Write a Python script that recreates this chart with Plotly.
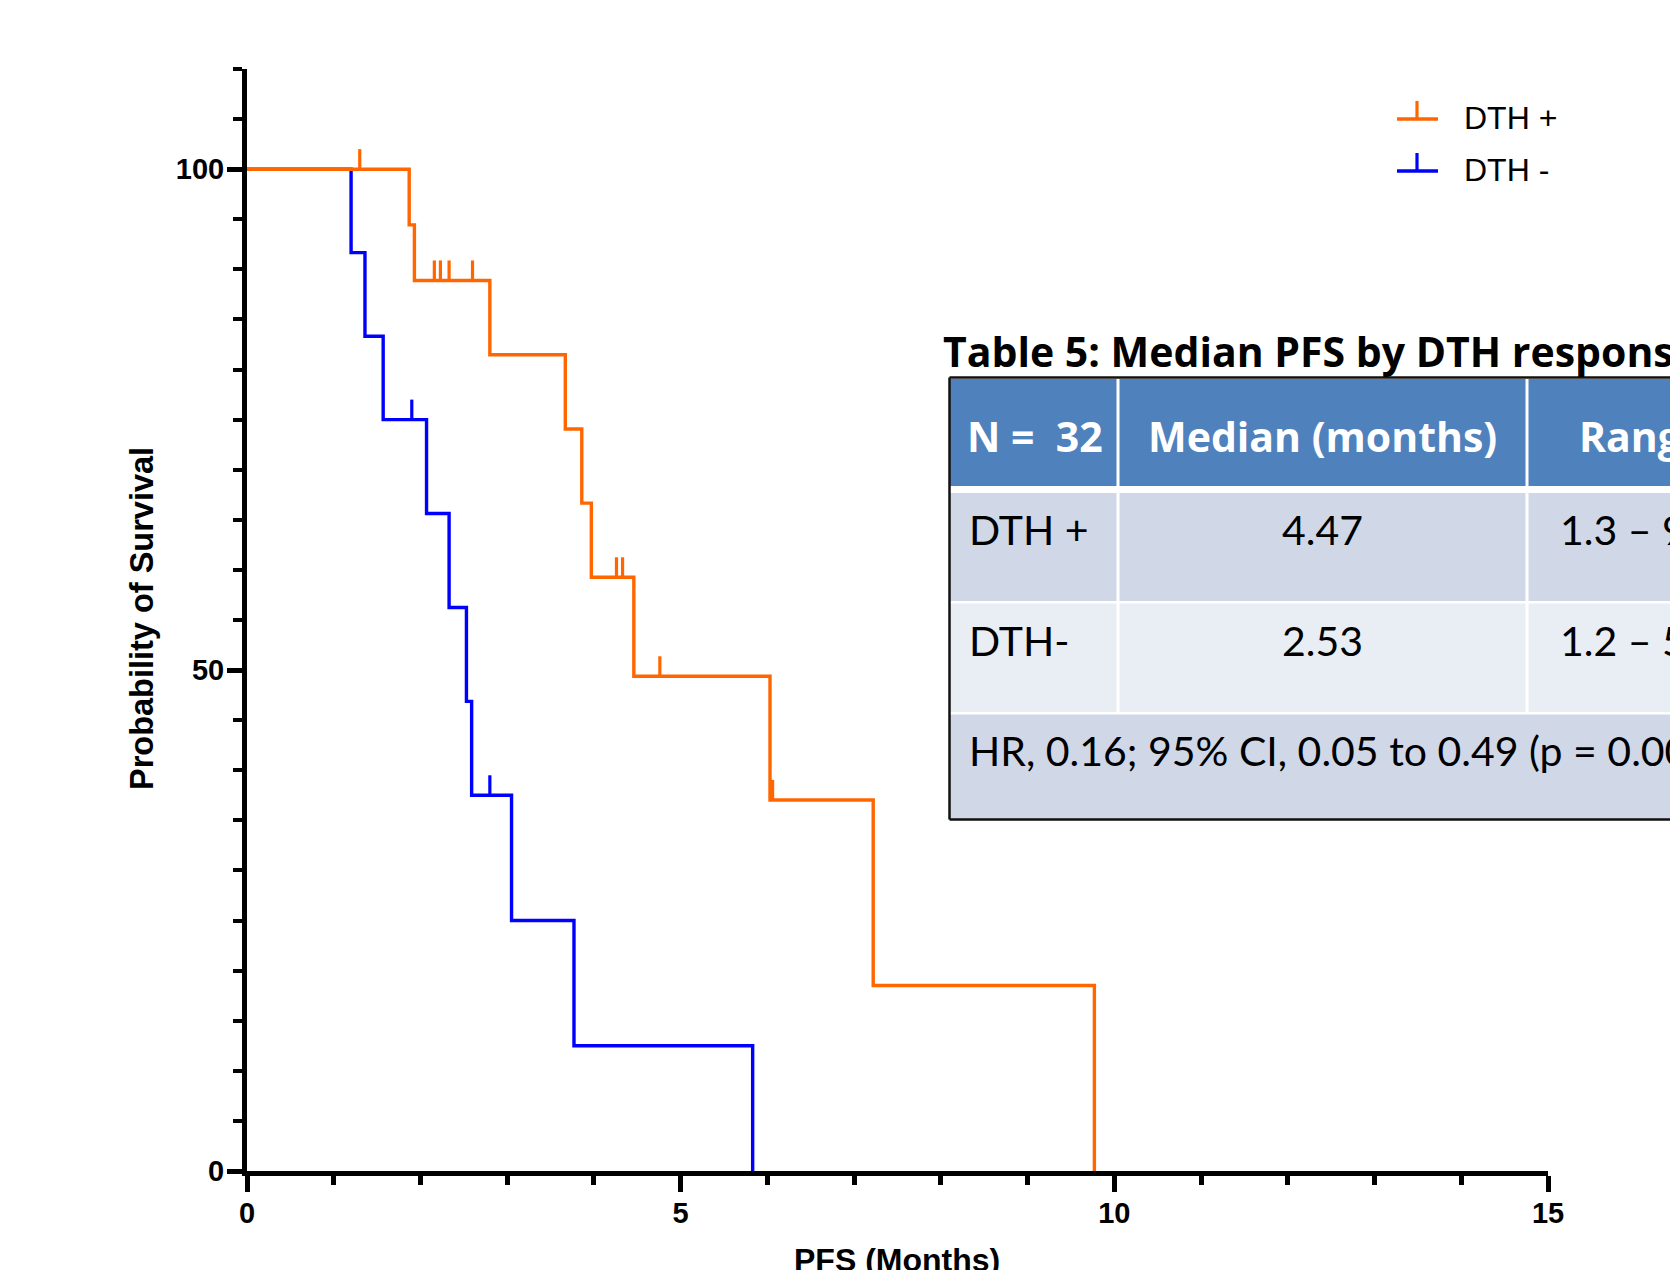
import plotly.graph_objects as go

# ---------------- data ----------------
series_names = ["DTH +", "DTH -"]
series_colors = ["#FF6600", "#0000FF"]

dth_pos_time = [0, 1.87, 1.93, 2.80, 3.67, 3.86, 3.97, 4.46, 6.03, 7.22, 9.77]
dth_pos_surv = [100, 94.44, 88.89, 81.48, 74.07, 66.67, 59.26, 49.38, 37.04, 18.52, 0]
dth_pos_cens_time = [1.30, 2.16, 2.23, 2.33, 2.60, 4.26, 4.33, 4.76, 6.06]
dth_pos_cens_surv = [100, 88.89, 88.89, 88.89, 88.89, 59.26, 59.26, 49.38, 37.04]

dth_neg_time = [0, 1.20, 1.36, 1.57, 2.07, 2.33, 2.53, 2.59, 3.05, 3.77, 5.83]
dth_neg_surv = [100, 91.67, 83.33, 75.00, 65.63, 56.25, 46.88, 37.50, 25.00, 12.50, 0]
dth_neg_cens_time = [1.90, 2.80]
dth_neg_cens_surv = [75.00, 37.50]

x_tick_vals = [0, 5, 10, 15]
y_tick_vals = [0, 50, 100]
x_title = "PFS (Months)"
y_title = "Probability of Survival"

table_title = "Table 5: Median PFS by DTH response"
table_header = ["N =\u00a0 32", "Median (months)", "Range"]
table_groups = ["DTH +", "DTH-"]
table_medians = ["4.47", "2.53"]
table_ranges = ["1.3 \u2013 9.8", "1.2 \u2013 5.8"]
table_footer = "HR, 0.16; 95% CI, 0.05 to 0.49 (p = 0.001)"

# ---------------- layout geometry (page pixels) ----------------
PAGE_W, PAGE_H = 1678, 1270
OFF = 8                      # default body margin of the html page
W, H = PAGE_W - OFF, PAGE_H - OFF
L, R, T, B = 247, 1548, 69, 1171   # plot area in page pixels


def px(x):
    return (x - L) / (R - L)


def py(y):
    return (B - y) / (B - T)


fig = go.Figure()

curves = [
    (dth_neg_time, dth_neg_surv, dth_neg_cens_time, dth_neg_cens_surv, 1),
    (dth_pos_time, dth_pos_surv, dth_pos_cens_time, dth_pos_cens_surv, 0),
]
CENSOR_H = 2.0
for t, s, ct, cs, i in curves:
    fig.add_trace(go.Scatter(
        x=t, y=s, mode="lines", name=series_names[i],
        line=dict(shape="hv", width=3.4, color=series_colors[i]),
        showlegend=False, hoverinfo="skip"))
    fig.add_trace(go.Scatter(
        x=ct, y=cs, mode="markers",
        marker=dict(size=1, color="rgba(0,0,0,0)"),
        error_y=dict(type="data", symmetric=False,
                     array=[CENSOR_H] * len(ct), arrayminus=[0] * len(ct),
                     width=0, thickness=3.2, color=series_colors[i]),
        showlegend=False, hoverinfo="skip"))

axis_font = dict(family="Liberation Sans, Arial", size=29, color="black", weight="bold")

fig.update_layout(
    width=W, height=H,
    margin=dict(l=L - OFF, r=PAGE_W - R, t=T - OFF, b=PAGE_H - B, autoexpand=False),
    paper_bgcolor="white", plot_bgcolor="white",
    showlegend=False,
    xaxis=dict(range=[0, 15], showline=True, linewidth=5, linecolor="black",
               ticks="outside", tickvals=x_tick_vals, ticklen=16, tickwidth=5,
               tickcolor="black", showgrid=False, zeroline=False,
               tickfont=axis_font, ticklabelstandoff=-4,
               minor=dict(dtick=1, tick0=0, ticks="outside", ticklen=9,
                          tickwidth=5, tickcolor="black", showgrid=False)),
    yaxis=dict(range=[0, 110], showline=True, linewidth=5, linecolor="black",
               ticks="outside", tickvals=y_tick_vals, ticklen=15, tickwidth=5,
               tickcolor="black", showgrid=False, zeroline=False,
               tickfont=axis_font, ticklabelstandoff=-3,
               minor=dict(dtick=5, tick0=0, ticks="outside", ticklen=9,
                          tickwidth=4, tickcolor="black", showgrid=False)),
)

shapes = []
annots = []

# axis titles
annots.append(dict(text=y_title, x=px(142), y=py(619), xref="paper", yref="paper",
                   textangle=-90, xanchor="center", yanchor="middle", showarrow=False,
                   font=dict(family="Liberation Sans, Arial", size=32.5, color="black", weight="bold")))
annots.append(dict(text=x_title, x=px(897), y=py(1260), xref="paper", yref="paper",
                   xanchor="center", yanchor="middle", showarrow=False,
                   font=dict(family="Liberation Sans, Arial", size=32, color="black", weight="bold")))

# legend (drawn manually: inverted-T symbol)
for i, (ly, ty) in enumerate([(119, 101), (171, 153)]):
    c = series_colors[i]
    shapes.append(dict(type="line", xref="paper", yref="paper",
                       x0=px(1397), x1=px(1438), y0=py(ly), y1=py(ly),
                       line=dict(color=c, width=3.4)))
    shapes.append(dict(type="line", xref="paper", yref="paper",
                       x0=px(1417), x1=px(1417), y0=py(ly), y1=py(ty),
                       line=dict(color=c, width=3.2)))
    annots.append(dict(text=series_names[i], x=px(1463), y=py(ly - 1), xref="paper", yref="paper",
                       xanchor="left", yanchor="middle", showarrow=False, borderpad=0,
                       font=dict(family="Liberation Sans, Arial", size=32, color="black")))

# ---------------- table ----------------
TX0, TX1 = 950, 1720
col_edges = [950, 1118, 1527, 1720]
rows = [(379, 486, "#4F81BD"), (493, 601, "#D0D8E8"), (603.5, 712, "#E9EDF4"), (714.5, 819, "#D0D8E8")]


def rect(x0, x1, y0, y1, fill):
    return dict(type="rect", xref="paper", yref="paper", x0=px(x0), x1=px(x1),
                y0=py(y1), y1=py(y0), fillcolor=fill, layer="above", line=dict(width=0))


shapes.append(rect(TX0, TX1, 378, 820, "white"))
for (y0, y1, fill) in rows:
    shapes.append(rect(TX0, TX1, y0, y1, fill))
for cx in col_edges[1:3]:
    shapes.append(dict(type="line", xref="paper", yref="paper", x0=px(cx), x1=px(cx),
                       y0=py(379), y1=py(712), line=dict(color="white", width=3), layer="above"))
for (x0, y0, x1, y1) in [(949.5, 377.5, TX1, 377.5), (949.5, 819.5, TX1, 819.5),
                         (949.5, 377.5, 949.5, 819.5)]:
    shapes.append(dict(type="line", xref="paper", yref="paper", x0=px(x0), x1=px(x1),
                       y0=py(y0), y1=py(y1), line=dict(color="#111111", width=2.5), layer="above"))

hfont = dict(family="Open Sans", size=41, color="white", weight="bold")
bfont = dict(family="Lato", size=41, color="black")


def ann(text, x, y, anchor, font):
    annots.append(dict(text=text, x=px(x), y=py(y), xref="paper", yref="paper",
                       xanchor=anchor, yanchor="middle", showarrow=False,
                       borderpad=0, borderwidth=0, font=font))


ann(table_title, 943, 351, "left", dict(family="Open Sans", size=41, color="black", weight="bold"))
ann(table_header[0], 967, 436, "left", hfont)
ann(table_header[1], 1322, 436, "center", hfont)
ann(table_header[2], 1579, 436, "left", hfont)
for k, ymid in enumerate([529, 640]):
    ann(table_groups[k], 969, ymid, "left", bfont)
    ann(table_medians[k], 1322, ymid, "center", bfont)
    ann(table_ranges[k], 1560, ymid, "left", bfont)
ann(table_footer, 969, 750, "left", bfont)

fig.update_layout(shapes=shapes, annotations=annots)

fig.write_html("out.html")
